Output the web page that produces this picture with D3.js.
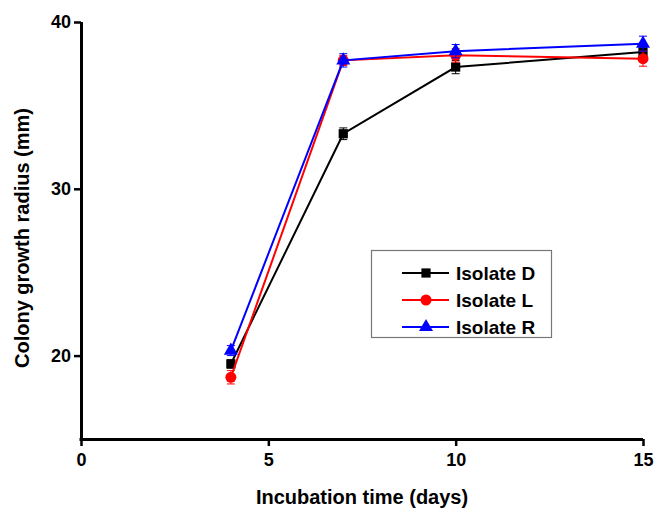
<!DOCTYPE html>
<html>
<head>
<meta charset="utf-8">
<script src="https://cdn.jsdelivr.net/npm/d3@7"></script>
<style>
body { margin: 0; background: #fff; }
text { font-family: "Liberation Sans", Arial, sans-serif; font-weight: bold; }
</style>
</head>
<body>
<div id="chart"></div>
<script>
// data
var days = [4, 7, 10, 15];
var isolateD = [19.5, 33.3, 37.3, 38.2];
var isolateDErr = [0.25, 0.35, 0.4, 0.3];
var isolateL = [18.7, 37.7, 38.0, 37.8];
var isolateLErr = [0.4, 0.3, 0.4, 0.45];
var isolateR = [20.3, 37.7, 38.25, 38.7];
var isolateRErr = [0.3, 0.4, 0.4, 0.45];
var xTicks = [0, 5, 10, 15];
var yTicks = [20, 30, 40];

var series = [
    {name: 'Isolate D', vals: isolateD, err: isolateDErr, color: '#000000', shape: 'square'},
    {name: 'Isolate L', vals: isolateL, err: isolateLErr, color: '#ff0000', shape: 'circle'},
    {name: 'Isolate R', vals: isolateR, err: isolateRErr, color: '#0000ff', shape: 'triangle'}
];

var width = 655, height = 509;
var svg = d3.select('#chart').append('svg').attr('width', width).attr('height', height);

var x = d3.scaleLinear().domain([0, 15]).range([81, 643]);
var y = d3.scaleLinear().domain([15, 40]).range([439, 22]);

// axes
var xAxis = svg.append('g').attr('transform', 'translate(0,439)')
    .call(d3.axisBottom(x).tickValues(xTicks).tickSize(7).tickSizeOuter(0).tickPadding(7));
var yAxis = svg.append('g').attr('transform', 'translate(81,0)')
    .call(d3.axisLeft(y).tickValues(yTicks).tickSize(7).tickSizeOuter(0).tickPadding(3));

[xAxis, yAxis].forEach(function (a) {
    a.select('.domain').attr('stroke', '#000').attr('stroke-width', 3);
    a.selectAll('.tick line').attr('stroke', '#000').attr('stroke-width', 2.5);
    a.selectAll('.tick text').attr('font-size', 18).attr('fill', '#000')
        .style('font-family', '"Liberation Sans", Arial, sans-serif').style('font-weight', 'bold');
});
xAxis.select('.domain').attr('d', 'M79.5,0.5H643');
yAxis.select('.domain').attr('d', 'M0.5,22V440');

svg.append('text').attr('x', 362).attr('y', 504).attr('text-anchor', 'middle')
    .attr('font-size', 20).text('Incubation time (days)');
svg.append('text').attr('transform', 'translate(29,238)rotate(-90)').attr('text-anchor', 'middle')
    .attr('font-size', 20).text('Colony growth radius (mm)');

var sym = {
    square: d3.symbol().type(d3.symbolSquare).size(85),
    circle: d3.symbol().type(d3.symbolCircle).size(95),
    triangle: d3.symbol().type(d3.symbolTriangle).size(85)
};

var line = d3.line().x(function (d) { return x(d[0]); }).y(function (d) { return y(d[1]); });

series.forEach(function (s) {
    var pts = days.map(function (d, i) { return [d, s.vals[i], s.err[i]]; });
    var g = svg.append('g');
    g.append('path').datum(pts).attr('d', line).attr('fill', 'none')
        .attr('stroke', s.color).attr('stroke-width', 2);
    var eb = g.selectAll('.eb').data(pts).enter().append('g');
    eb.append('line').attr('x1', d => x(d[0])).attr('x2', d => x(d[0]))
        .attr('y1', d => y(d[1] - d[2])).attr('y2', d => y(d[1] + d[2]))
        .attr('stroke', s.color).attr('stroke-width', 1);
    [-1, 1].forEach(function (sg) {
        eb.append('line').attr('x1', d => x(d[0]) - 4).attr('x2', d => x(d[0]) + 4)
            .attr('y1', d => y(d[1] + sg * d[2])).attr('y2', d => y(d[1] + sg * d[2]))
            .attr('stroke', s.color).attr('stroke-width', 1);
    });
    g.selectAll('.pt').data(pts).enter().append('path')
        .attr('d', sym[s.shape])
        .attr('transform', d => 'translate(' + x(d[0]) + ',' + y(d[1]) + ')')
        .attr('fill', s.color);
});

// legend
var leg = svg.append('g');
leg.append('rect').attr('x', 371.5).attr('y', 250.5).attr('width', 180).attr('height', 87)
    .attr('fill', '#fff').attr('stroke', '#777').attr('stroke-width', 1.2);
series.forEach(function (s, i) {
    var ly = 273 + i * 27;
    leg.append('line').attr('x1', 402).attr('x2', 449).attr('y1', ly).attr('y2', ly)
        .attr('stroke', s.color).attr('stroke-width', 2);
    leg.append('path').attr('d', sym[s.shape]).attr('transform', 'translate(426,' + ly + ')')
        .attr('fill', s.color);
    leg.append('text').attr('x', 456).attr('y', ly + 7).attr('font-size', 19).text(s.name);
});
</script>
</body>
</html>
